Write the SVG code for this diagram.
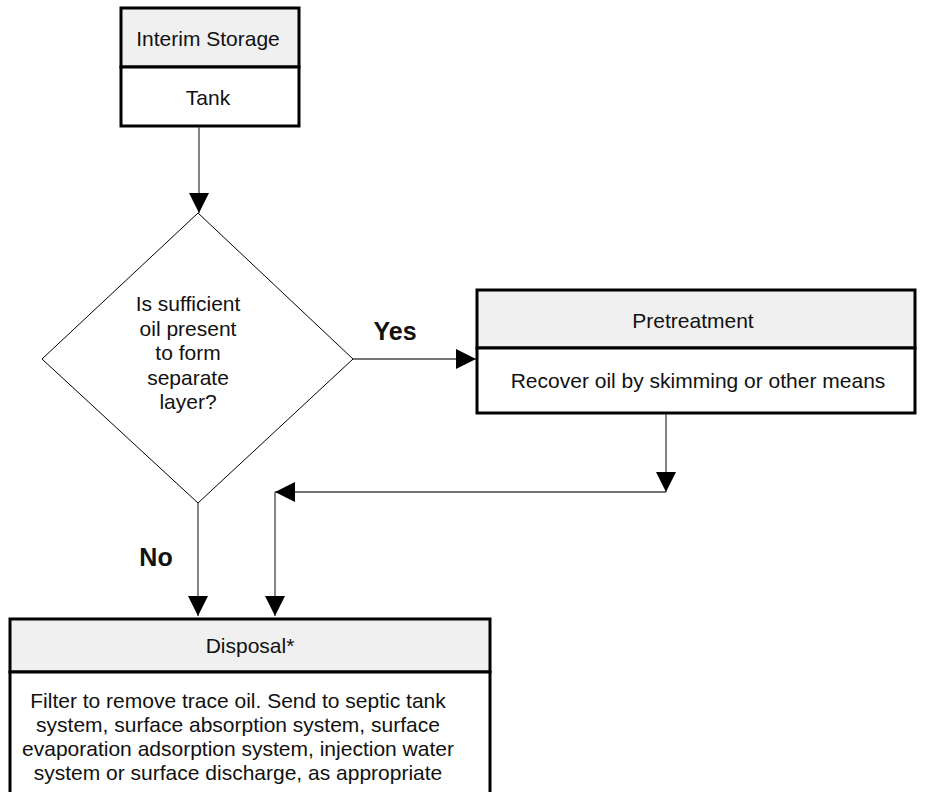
<svg xmlns="http://www.w3.org/2000/svg" width="926" height="792" viewBox="0 0 926 792">
  <style>
    .box { fill: #ffffff; stroke: #000000; stroke-width: 3; }
    .head { fill: #f0f0f0; stroke: #000000; stroke-width: 3; }
    .decision { fill: #ffffff; stroke: #000000; stroke-width: 1; }
    .conn { fill: none; stroke: #444444; stroke-width: 1.3; }
    text { font-family: "Liberation Sans", Arial, sans-serif; font-size: 21px; fill: #111111; text-anchor: middle; }
    .lbl { font-weight: bold; font-size: 25px; }
  </style>
  <defs>
    <marker id="arrow" viewBox="0 0 20 20" refX="20" refY="10" markerWidth="20" markerHeight="20" markerUnits="userSpaceOnUse" orient="auto">
      <path d="M0,0 L20,10 L0,20 z" fill="#000000"/>
    </marker>
  </defs>

  <!-- Interim storage -->
  <g id="interim-storage">
    <rect class="head" x="121" y="8" width="178" height="59"/>
    <rect class="box" x="121" y="67" width="178" height="59"/>
    <text x="208" y="45.5">Interim Storage</text>
    <text x="208" y="104.5">Tank</text>
  </g>

  <!-- Decision -->
  <g id="decision">
    <polygon class="decision" points="198,213 353,359 198,503 42,359"/>
    <text x="188" y="311">Is sufficient</text>
    <text x="188" y="335.5">oil present</text>
    <text x="188" y="360">to form</text>
    <text x="188" y="384.5">separate</text>
    <text x="188" y="409">layer?</text>
  </g>

  <!-- Pretreatment -->
  <g id="pretreatment">
    <rect class="head" x="477" y="290" width="438" height="58"/>
    <rect class="box" x="477" y="348" width="438" height="65"/>
    <text x="693" y="327.5">Pretreatment</text>
    <text x="698" y="388">Recover oil by skimming or other means</text>
  </g>

  <!-- Disposal -->
  <g id="disposal">
    <rect class="head" x="10" y="619" width="480" height="53"/>
    <rect class="box" x="10" y="672" width="480" height="130"/>
    <text x="250" y="652.5">Disposal*</text>
    <text x="238" y="707.5">Filter to remove trace oil. Send to septic tank</text>
    <text x="238" y="731.5">system, surface absorption system, surface</text>
    <text x="238" y="755.5">evaporation adsorption system, injection water</text>
    <text x="238" y="779.5">system or surface discharge, as appropriate</text>
  </g>

  <!-- Connectors -->
  <g id="connectors">
    <path class="conn" d="M199,127 V213" marker-end="url(#arrow)"/>
    <path class="conn" d="M353,359 H476" marker-end="url(#arrow)"/>
    <path class="conn" d="M666,414 V492" marker-end="url(#arrow)"/>
    <path class="conn" d="M666,492 H275" marker-end="url(#arrow)"/>
    <path class="conn" d="M275,492 V616" marker-end="url(#arrow)"/>
    <path class="conn" d="M198,503 V616" marker-end="url(#arrow)"/>
    <text class="lbl" x="395" y="340">Yes</text>
    <text class="lbl" x="156" y="566">No</text>
  </g>
</svg>
